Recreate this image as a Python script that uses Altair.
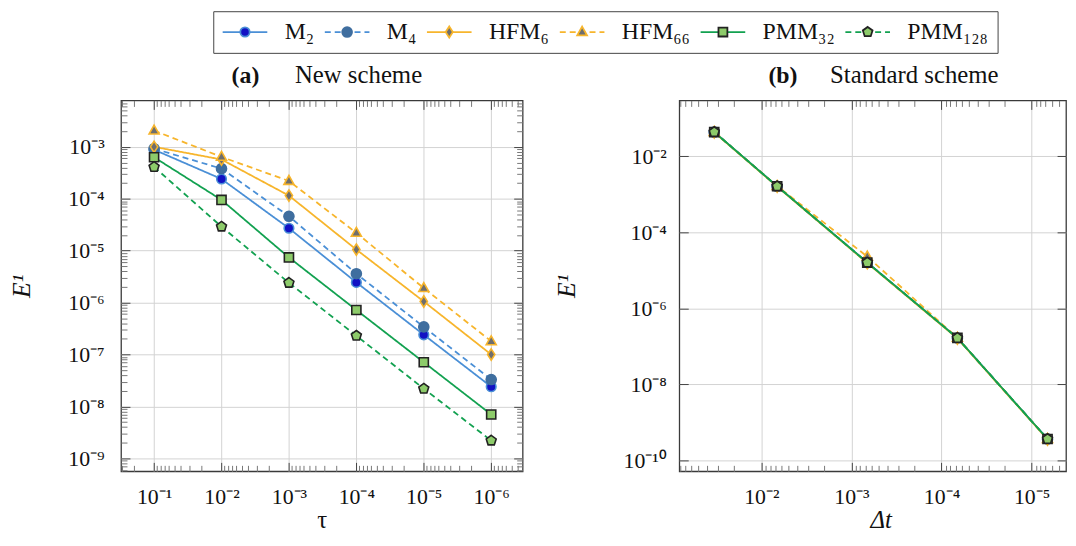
import altair as alt
import pandas as pd

# ---------------- data ----------------
SERIES = ["M₂", "M₄", "HFM₆", "HFM₆₆", "PMM₃₂", "PMM₁₂₈"]
KEYS = ["k0", "k1", "k2", "k3", "k4", "k5"]

TAU = [1e-1, 1e-2, 1e-3, 1e-4, 1e-5, 1e-6]
NEW_M2 = [8.8e-4, 2.4e-4, 2.7e-5, 2.45e-6, 2.4e-7, 2.4e-8]
NEW_M4 = [9.2e-4, 3.8e-4, 4.6e-5, 3.6e-6, 3.4e-7, 3.3e-8]
NEW_HFM6 = [1.0e-3, 5.7e-4, 1.15e-4, 1.05e-5, 1.05e-6, 1.0e-7]
NEW_HFM66 = [2.05e-3, 6.4e-4, 2.2e-4, 2.2e-5, 1.9e-6, 1.8e-7]
NEW_PMM32 = [6.3e-4, 9.5e-5, 7.4e-6, 7.2e-7, 7.1e-8, 7.0e-9]
NEW_PMM128 = [4.1e-4, 2.9e-5, 2.4e-6, 2.3e-7, 2.2e-8, 2.2e-9]

DT = [3.33e-2, 6.67e-3, 6.67e-4, 6.67e-5, 6.67e-6]
STD_M2 = [4.4e-2, 1.64e-3, 1.6e-5, 1.65e-7, 3.6e-10]
STD_M4 = [4.4e-2, 1.64e-3, 1.6e-5, 1.65e-7, 3.6e-10]
STD_HFM6 = [4.3e-2, 1.6e-3, 1.55e-5, 1.6e-7, 3.5e-10]
STD_HFM66 = [4.4e-2, 1.66e-3, 2.3e-5, 1.66e-7, 3.6e-10]
STD_PMM32 = [4.4e-2, 1.64e-3, 1.6e-5, 1.65e-7, 3.6e-10]
STD_PMM128 = [4.4e-2, 1.64e-3, 1.6e-5, 1.65e-7, 3.6e-10]

# tick labels (decades)
LEFT_X_TICKS = [1e-1, 1e-2, 1e-3, 1e-4, 1e-5, 1e-6]
LEFT_Y_TICKS = [1e-3, 1e-4, 1e-5, 1e-6, 1e-7, 1e-8, 1e-9]
RIGHT_X_TICKS = [1e-2, 1e-3, 1e-4, 1e-5]
RIGHT_Y_TICKS = [1e-2, 1e-4, 1e-6, 1e-8, 1e-10]
MINOR_MULT = [2, 3, 4, 5, 6, 7, 8, 9]
LEFT_X_DECADES = [1, 2, 3, 4, 5, 6, 7]
LEFT_Y_DECADES = [3, 4, 5, 6, 7, 8, 9, 10]
RIGHT_X_DECADES = [2, 3, 4, 5, 6]

# ---------------- styles ----------------
FONT = "Liberation Serif"
LINE_COLORS = ["#4a8fd6", "#4a8fd6", "#f7b52c", "#f7b52c", "#12a150", "#12a150"]
DASHES = [[1, 0], [6, 4], [1, 0], [6, 4], [1, 0], [6, 4]]
FILLS = ["#1212c4", "#3f6e9f", "#6e6e6e", "#6e6e6e", "#8dcb6a", "#8dcb6a"]
STROKES = ["#4a8fd6", "#3f6e9f", "#f7b52c", "#f7b52c", "#222222", "#222222"]
EXT = "M-5,0M5,0"
SHAPES = [
    EXT + "M1.05,0A1.05,1.05,0,1,1,-1.05,0A1.05,1.05,0,1,1,1.05,0Z",
    EXT + "M1.1,0A1.1,1.1,0,1,1,-1.1,0A1.1,1.1,0,1,1,1.1,0Z",
    EXT + "M0,-1.25L0.8,0L0,1.25L-0.8,0Z",
    EXT + "M0,-1.2L1.1,0.75L-1.1,0.75Z",
    EXT + "M-1,-1L1,-1L1,1L-1,1Z",
    EXT + "M0,-1.15L1.09,-0.36L0.68,0.93L-0.68,0.93L-1.09,-0.36Z",
]

SUP = "['⁰','¹','²','³','⁴','⁵','⁶','⁷','⁸','⁹','¹⁰']"
EXPR = "'10⁻' + " + SUP + "[round(-log(datum.value)/LN10)]"
KEY_LABELS = ("[" + ",".join("'%s'" % s for s in SERIES) + "][indexof(["
              + ",".join("'%s'" % k for k in KEYS) + "], datum.value)]")


def long_df(xs, ys_list):
    rows = []
    for name, key, ys in zip(SERIES, KEYS, ys_list):
        for xv, yv in zip(xs, ys):
            rows.append({"x": xv, "y": yv, "series": name, "key": key})
    return pd.DataFrame(rows)


def minor(decades, lo, hi):
    return [m * 10.0 ** (-k) for k in decades for m in MINOR_MULT if lo <= m * 10.0 ** (-k) <= hi]


LEG_COMMON = dict(
    orient="none", legendX=93, legendY=-90, direction="horizontal", columns=6,
    title=None, symbolSize=81, symbolStrokeWidth=1.8, symbolOffset=11, labelOffset=28,
    labelFont=FONT, labelFontSize=24, labelColor="#111", columnPadding=6, padding=9,
)
LEG_LINES = alt.Legend(symbolType="M-5,0L5,0", strokeColor="#444", **LEG_COMMON)
LEG_MARKS = alt.Legend(labelOpacity=0, zindex=1, labelExpr=KEY_LABELS, **LEG_COMMON)


def tick_axis(orient, values, size, color, **kw):
    return alt.Axis(orient=orient, values=values, offset=-size, tickSize=size, ticks=True,
                    labels=False, domain=False, grid=False, tickColor=color, tickWidth=1,
                    **({"title": None} if "title" not in kw else {}), **kw)


def panel(df, xdom, ydom, xmaj, ymaj, xmin, ymin, xtitle, letter, caption,
          width, letter_x, caption_x, ytitle_x, xtitle_x, ylab_pad):
    xs = alt.Scale(type="log", domain=xdom, reverse=True)
    ys = alt.Scale(type="log", domain=ydom)
    base = alt.Chart(df)
    main_x = alt.Axis(orient="bottom", values=xmaj, grid=True, ticks=False, tickSize=0,
                      domain=False, labelExpr=EXPR, labelFontSize=22, labelPadding=32,
                      labelBaseline="alphabetic", labelFlush=False, labelOverlap=False,
                      title=xtitle, titleFontSize=25, titleFontWeight="normal",
                      titleBaseline="alphabetic", titleY=57, titleX=xtitle_x,
                      titleFontStyle="italic" if xtitle == "Δt" else "normal")
    main_y = alt.Axis(orient="left", values=ymaj, grid=True, ticks=False, tickSize=0,
                      domain=False, labelExpr=EXPR, labelFontSize=22, labelPadding=ylab_pad,
                      labelBaseline="middle", labelFlush=False, labelOverlap=False,
                      title="E¹", titleFontSize=26, titleFontStyle="italic",
                      titleFontWeight="normal", titleBaseline="middle", titleX=ytitle_x)
    lines = base.mark_line(strokeWidth=1.8).encode(
        x=alt.X("x:Q", scale=xs, axis=main_x),
        y=alt.Y("y:Q", scale=ys, axis=main_y),
        color=alt.Color("series:N", scale=alt.Scale(domain=SERIES, range=LINE_COLORS), legend=LEG_LINES),
        strokeDash=alt.StrokeDash("series:N", scale=alt.Scale(domain=SERIES, range=DASHES), legend=LEG_LINES),
    )
    pts = base.mark_point(size=85, opacity=1, strokeWidth=1.6, clip=True).encode(
        x=alt.X("x:Q", scale=xs, axis=None),
        y=alt.Y("y:Q", scale=ys, axis=None),
        shape=alt.Shape("key:N", scale=alt.Scale(domain=KEYS, range=SHAPES), legend=LEG_MARKS),
        fill=alt.Fill("key:N", scale=alt.Scale(domain=KEYS, range=FILLS), legend=LEG_MARKS),
        stroke=alt.Stroke("key:N", scale=alt.Scale(domain=KEYS, range=STROKES), legend=LEG_MARKS),
    )

    def ghost(xa, ya):
        return base.mark_point(opacity=0).encode(
            x=alt.X("x:Q", scale=xs, axis=xa), y=alt.Y("y:Q", scale=ys, axis=ya))

    t1 = ghost(tick_axis("bottom", xmaj, 9, "#444"), tick_axis("left", ymaj, 9, "#444"))
    t2 = ghost(tick_axis("bottom", xmin, 6, "#777"), tick_axis("left", ymin, 6, "#777"))
    t3 = ghost(
        tick_axis("top", xmaj, 9, "#444", title=letter, titleFontWeight="bold", titleFontSize=24,
                  titleX=letter_x, titleY=-27, titleBaseline="alphabetic", titleAlign="center"),
        tick_axis("right", ymaj, 9, "#444"))
    t4 = ghost(
        tick_axis("top", xmin, 6, "#777", title=caption, titleFontWeight="normal", titleFontSize=25,
                  titleX=caption_x, titleY=-24, titleBaseline="alphabetic", titleAlign="center"),
        tick_axis("right", ymin, 6, "#777"))
    return alt.layer(lines, pts, t1, t2, t3, t4).resolve_axis(
        x="independent", y="independent").properties(width=width, height=374)


left_df = long_df(TAU, [NEW_M2, NEW_M4, NEW_HFM6, NEW_HFM66, NEW_PMM32, NEW_PMM128])
right_df = long_df(DT, [STD_M2, STD_M4, STD_HFM6, STD_HFM66, STD_PMM32, STD_PMM128])

lxd = [10 ** -6.466, 10 ** -0.51]
lyd = [10 ** -9.249, 10 ** -2.107]
rxd = [10 ** -5.381, 10 ** -1.09]
ryd = [10 ** -10.295, 10 ** -0.525]

left = panel(left_df, lxd, lyd, LEFT_X_TICKS, LEFT_Y_TICKS,
             minor(LEFT_X_DECADES, lxd[0], lxd[1]), minor(LEFT_Y_DECADES, lyd[0], lyd[1]),
             "τ", "(a)", "New scheme", 405, 125, 239, -100, 202.5, 17)
right = panel(right_df, rxd, ryd, RIGHT_X_TICKS, RIGHT_Y_TICKS,
              minor(RIGHT_X_DECADES, rxd[0], rxd[1]), [],
              "Δt", "(b)", "Standard scheme", 390, 104, 236.5, -114, 203, 13)

chart = alt.hconcat(left, right, spacing=28).resolve_scale(
    x="independent", y="independent"
).properties(padding=0, background="white").configure_view(
    stroke="#3a3a3a", strokeWidth=1.3
).configure_axis(
    labelFont=FONT, titleFont=FONT, labelColor="#111", titleColor="#111",
    gridColor="#d2d2d2", gridWidth=1
)

chart.save("out.html", embed_options={"renderer": "svg", "actions": False})
